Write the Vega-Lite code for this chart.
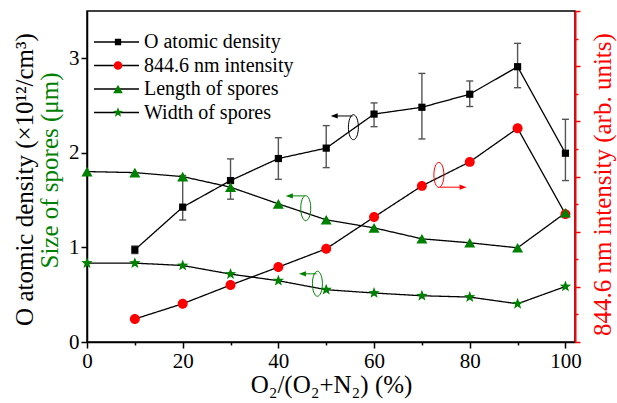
{
  "$schema": "https://vega.github.io/schema/vega-lite/v6.json",
  "width": 488,
  "height": 331,
  "autosize": {"type": "none"},
  "padding": {"left": 87, "top": 11, "right": 42, "bottom": 61},
  "config": {
    "font": "Liberation Serif",
    "view": {"stroke": "black", "strokeWidth": 1.5},
    "axis": {"grid": false, "labelColor": "black", "titleColor": "black", "titleFontWeight": "normal", "labelFont": "Liberation Serif", "titleFont": "Liberation Serif", "minExtent": 0},
    "legend": {"labelFont": "Liberation Serif"}
  },
  "data": {
    "values": [
      {"series": "O atomic density", "x": 10, "y": 0.975, "lo": 0.935, "hi": 1.015},
      {"series": "O atomic density", "x": 20, "y": 1.426, "lo": 1.29, "hi": 1.76},
      {"series": "O atomic density", "x": 30, "y": 1.707, "lo": 1.51, "hi": 1.936},
      {"series": "O atomic density", "x": 40, "y": 1.94, "lo": 1.72, "hi": 2.16},
      {"series": "O atomic density", "x": 50, "y": 2.05, "lo": 1.844, "hi": 2.288},
      {"series": "O atomic density", "x": 60, "y": 2.41, "lo": 2.277, "hi": 2.528},
      {"series": "O atomic density", "x": 70, "y": 2.482, "lo": 2.147, "hi": 2.84},
      {"series": "O atomic density", "x": 80, "y": 2.62, "lo": 2.49, "hi": 2.76},
      {"series": "O atomic density", "x": 90, "y": 2.911, "lo": 2.689, "hi": 3.158},
      {"series": "O atomic density", "x": 100, "y": 1.996, "lo": 1.707, "hi": 2.355},
      {"series": "844.6 nm intensity", "x": 10, "y": 0.417},
      {"series": "844.6 nm intensity", "x": 20, "y": 0.694},
      {"series": "844.6 nm intensity", "x": 30, "y": 1.032},
      {"series": "844.6 nm intensity", "x": 40, "y": 1.358},
      {"series": "844.6 nm intensity", "x": 50, "y": 1.69},
      {"series": "844.6 nm intensity", "x": 60, "y": 2.264},
      {"series": "844.6 nm intensity", "x": 70, "y": 2.83},
      {"series": "844.6 nm intensity", "x": 80, "y": 3.265},
      {"series": "844.6 nm intensity", "x": 90, "y": 3.875},
      {"series": "844.6 nm intensity", "x": 100, "y": 2.318},
      {"series": "Length of spores", "x": 0, "y": 1.802},
      {"series": "Length of spores", "x": 10, "y": 1.791},
      {"series": "Length of spores", "x": 20, "y": 1.749},
      {"series": "Length of spores", "x": 30, "y": 1.637},
      {"series": "Length of spores", "x": 40, "y": 1.461},
      {"series": "Length of spores", "x": 50, "y": 1.292},
      {"series": "Length of spores", "x": 60, "y": 1.207},
      {"series": "Length of spores", "x": 70, "y": 1.091},
      {"series": "Length of spores", "x": 80, "y": 1.049},
      {"series": "Length of spores", "x": 90, "y": 0.996},
      {"series": "Length of spores", "x": 100, "y": 1.366},
      {"series": "Width of spores", "x": 0, "y": 0.834},
      {"series": "Width of spores", "x": 10, "y": 0.834},
      {"series": "Width of spores", "x": 20, "y": 0.809},
      {"series": "Width of spores", "x": 30, "y": 0.718},
      {"series": "Width of spores", "x": 40, "y": 0.648},
      {"series": "Width of spores", "x": 50, "y": 0.553},
      {"series": "Width of spores", "x": 60, "y": 0.518},
      {"series": "Width of spores", "x": 70, "y": 0.489},
      {"series": "Width of spores", "x": 80, "y": 0.475},
      {"series": "Width of spores", "x": 90, "y": 0.404},
      {"series": "Width of spores", "x": 100, "y": 0.587}
    ]
  },
  "layer": [
    {
      "transform": [{"filter": "datum.series !== '844.6 nm intensity'"}],
      "mark": {"type": "line", "color": "black", "strokeWidth": 1.3},
      "encoding": {
        "x": {"field": "x", "type": "quantitative", "scale": {"domain": [0, 102], "nice": false, "zero": false},
          "axis": {"orient": "bottom", "values": [0, 10, 20, 30, 40, 50, 60, 70, 80, 90, 100], "format": "d",
            "labelExpr": "datum.value % 20 === 0 ? datum.label : ''",
            "tickSize": {"condition": {"test": "datum.value % 20 === 0", "value": 6}, "value": 3},
            "title": "O₂/(O₂+N₂) (%)", "labelFontSize": 21, "titleFontSize": 25, "labelPadding": 2, "titlePadding": 1,
            "domainColor": "black", "tickColor": "black", "domainWidth": 1.5, "tickWidth": 1.5, "labelFlush": false, "labelOverlap": false}},
        "y": {"field": "y", "type": "quantitative", "scale": {"domain": [0, 3.5], "nice": false, "zero": false},
          "axis": {"orient": "left", "values": [0, 0.5, 1, 1.5, 2, 2.5, 3], "format": "d",
            "labelExpr": "datum.value % 1 === 0 ? datum.label : ''",
            "tickSize": {"condition": {"test": "datum.value % 1 === 0", "value": 6}, "value": 3},
            "title": "O atomic density (×10¹²/cm³)", "labelFontSize": 21, "titleFontSize": 25, "labelPadding": 2, "titlePadding": 31, "titleY": 168,
            "domainColor": "black", "tickColor": "black", "domainWidth": 1.5, "tickWidth": 1.5, "labelOverlap": false}},
        "strokeDash": {"field": "series", "type": "nominal",
          "sort": ["O atomic density", "844.6 nm intensity", "Length of spores", "Width of spores"],
          "scale": {"range": [[1, 0], [1, 0], [1, 0], [1, 0]]},
          "legend": {"orient": "none", "legendX": 6, "legendY": 21, "title": null, "symbolType": "stroke", "symbolSize": 2025,
            "symbolStrokeColor": "black", "symbolStrokeWidth": 1.3, "labelExpr": "''", "labelFontSize": 20, "clipHeight": 20,
            "rowPadding": 3.5, "padding": 0, "labelOffset": 0}}
      }
    },
    {
      "transform": [{"filter": "datum.series === '844.6 nm intensity'"}],
      "mark": {"type": "line", "color": "black", "strokeWidth": 1.3},
      "encoding": {
        "x": {"field": "x", "type": "quantitative", "scale": {"domain": [0, 102], "nice": false, "zero": false}},
        "y": {"field": "y", "type": "quantitative", "scale": {"domain": [0, 6], "nice": false, "zero": false},
          "axis": {"orient": "right", "values": [0, 0.5, 1, 1.5, 2, 2.5, 3, 3.5, 4, 4.5, 5, 5.5, 6], "labels": false,
            "tickSize": {"condition": {"test": "datum.value % 1 === 0", "value": 5}, "value": 3},
            "title": "844.6 nm intensity (arb. units)", "titleColor": "#FF0000", "titleFontSize": 25, "titleAngle": 270, "titleBaseline": "top", "titlePadding": 10, "titleY": 173,
            "domainColor": "#FF0000", "tickColor": "#FF0000", "domainWidth": 2, "tickWidth": 1.5}},
        "strokeDash": {"field": "series", "type": "nominal",
          "sort": ["O atomic density", "844.6 nm intensity", "Length of spores", "Width of spores"],
          "scale": {"range": [[1, 0], [1, 0], [1, 0], [1, 0]]},
          "legend": {"orient": "none", "legendX": 6, "legendY": 21, "title": null, "symbolType": "stroke", "symbolSize": 2025,
            "symbolStrokeColor": "black", "symbolStrokeWidth": 1.3, "labelExpr": "''", "labelFontSize": 20, "clipHeight": 20,
            "rowPadding": 3.5, "padding": 0, "labelOffset": 0}}
      }
    },
    {
      "transform": [{"filter": "datum.series === 'O atomic density'"}],
      "mark": {"type": "rule", "color": "#555555", "strokeWidth": 1.4},
      "encoding": {
        "x": {"field": "x", "type": "quantitative", "scale": {"domain": [0, 102], "nice": false, "zero": false}},
        "y": {"field": "lo", "type": "quantitative", "scale": {"domain": [0, 3.5], "nice": false, "zero": false}, "axis": null},
        "y2": {"field": "hi"}
      }
    },
    {
      "transform": [{"filter": "datum.series === 'O atomic density'"}],
      "mark": {"type": "tick", "orient": "horizontal", "color": "#555555", "size": 7, "thickness": 1.4, "opacity": 1},
      "encoding": {
        "x": {"field": "x", "type": "quantitative", "scale": {"domain": [0, 102], "nice": false, "zero": false}},
        "y": {"field": "lo", "type": "quantitative", "scale": {"domain": [0, 3.5], "nice": false, "zero": false}, "axis": null}
      }
    },
    {
      "transform": [{"filter": "datum.series === 'O atomic density'"}],
      "mark": {"type": "tick", "orient": "horizontal", "color": "#555555", "size": 7, "thickness": 1.4, "opacity": 1},
      "encoding": {
        "x": {"field": "x", "type": "quantitative", "scale": {"domain": [0, 102], "nice": false, "zero": false}},
        "y": {"field": "hi", "type": "quantitative", "scale": {"domain": [0, 3.5], "nice": false, "zero": false}, "axis": null}
      }
    },
    {
      "transform": [{"filter": "datum.series === '844.6 nm intensity'"}],
      "mark": {"type": "point", "filled": true, "size": 144, "opacity": 1, "strokeWidth": 0},
      "encoding": {
        "x": {"field": "x", "type": "quantitative", "scale": {"domain": [0, 102], "nice": false, "zero": false}},
        "y": {"field": "y", "type": "quantitative", "scale": {"domain": [0, 6], "nice": false, "zero": false}, "axis": null},
        "color": {"field": "series", "type": "nominal",
          "scale": {"domain": ["O atomic density", "844.6 nm intensity", "Length of spores", "Width of spores"], "range": ["#000000", "#FF0000", "#008000", "#008000"]},
          "legend": {"orient": "none", "legendX": 21, "legendY": 21, "title": null, "symbolSize": 110, "symbolStrokeWidth": 0,
            "labelFontSize": 20, "labelColor": "black", "clipHeight": 20, "rowPadding": 3.5, "padding": 0, "labelOffset": 16, "labelLimit": 400}},
        "shape": {"field": "series", "type": "nominal",
          "scale": {"domain": ["O atomic density", "844.6 nm intensity", "Length of spores", "Width of spores"],
            "range": ["M-0.6,-0.6H0.6V0.6H-0.6Z", "M0.83,0A0.83,0.83 0 1,1 -0.83,0A0.83,0.83 0 1,1 0.83,0Z", "M0,-0.8L0.92,0.8L-0.92,0.8Z", "M0,-1L0.247,-0.34L0.951,-0.309L0.399,0.13L0.588,0.809L0,0.42L-0.588,0.809L-0.399,0.13L-0.951,-0.309L-0.247,-0.34Z"]},
          "legend": {"orient": "none", "legendX": 21, "legendY": 21, "title": null, "symbolSize": 110, "symbolStrokeWidth": 0,
            "labelFontSize": 20, "labelColor": "black", "clipHeight": 20, "rowPadding": 3.5, "padding": 0, "labelOffset": 16, "labelLimit": 400}}
      }
    },
    {
      "transform": [{"filter": "datum.series !== '844.6 nm intensity'"}],
      "mark": {"type": "point", "filled": true, "size": 144, "opacity": 1, "strokeWidth": 0},
      "encoding": {
        "x": {"field": "x", "type": "quantitative", "scale": {"domain": [0, 102], "nice": false, "zero": false}},
        "y": {"field": "y", "type": "quantitative", "scale": {"domain": [0, 3.5], "nice": false, "zero": false},
          "axis": {"orient": "left", "labels": false, "ticks": false, "domain": false, "title": "Size of spores (μm)", "titleColor": "#008000", "titleFontSize": 25, "titlePadding": 25, "titleY": 159}},
        "color": {"field": "series", "type": "nominal",
          "scale": {"domain": ["O atomic density", "844.6 nm intensity", "Length of spores", "Width of spores"], "range": ["#000000", "#FF0000", "#008000", "#008000"]},
          "legend": {"orient": "none", "legendX": 21, "legendY": 21, "title": null, "symbolSize": 110, "symbolStrokeWidth": 0,
            "labelFontSize": 20, "labelColor": "black", "clipHeight": 20, "rowPadding": 3.5, "padding": 0, "labelOffset": 16, "labelLimit": 400}},
        "shape": {"field": "series", "type": "nominal",
          "scale": {"domain": ["O atomic density", "844.6 nm intensity", "Length of spores", "Width of spores"],
            "range": ["M-0.6,-0.6H0.6V0.6H-0.6Z", "M0.83,0A0.83,0.83 0 1,1 -0.83,0A0.83,0.83 0 1,1 0.83,0Z", "M0,-0.8L0.92,0.8L-0.92,0.8Z", "M0,-1L0.247,-0.34L0.951,-0.309L0.399,0.13L0.588,0.809L0,0.42L-0.588,0.809L-0.399,0.13L-0.951,-0.309L-0.247,-0.34Z"]},
          "legend": {"orient": "none", "legendX": 21, "legendY": 21, "title": null, "symbolSize": 110, "symbolStrokeWidth": 0,
            "labelFontSize": 20, "labelColor": "black", "clipHeight": 20, "rowPadding": 3.5, "padding": 0, "labelOffset": 16, "labelLimit": 400}}
      }
    },
    {
      "data": {"values": [{}]},
      "layer": [
        {"mark": {"type": "point", "shape": "M0,-1A0.4,1 0 1,1 0,1A0.4,1 0 1,1 0,-1Z", "size": 625, "filled": false, "color": "black", "strokeWidth": 1, "opacity": 1},
         "encoding": {"x": {"datum": 55.68, "type": "quantitative", "scale": {"domain": [0, 102], "nice": false, "zero": false}},
                      "y": {"datum": 2.271, "type": "quantitative", "scale": {"domain": [0, 3.5], "nice": false, "zero": false}, "axis": null}}},
        {"mark": {"type": "rule", "color": "black", "strokeWidth": 1},
         "encoding": {"x": {"datum": 51.8, "type": "quantitative", "scale": {"domain": [0, 102], "nice": false, "zero": false}},
                      "x2": {"datum": 55.5},
                      "y": {"datum": 2.39, "type": "quantitative", "scale": {"domain": [0, 3.5], "nice": false, "zero": false}, "axis": null}}},
        {"mark": {"type": "point", "shape": "M0,0L2,-0.75L2,0.75Z", "size": 49, "filled": true, "color": "black", "strokeWidth": 0, "opacity": 1},
         "encoding": {"x": {"datum": 50.94, "type": "quantitative", "scale": {"domain": [0, 102], "nice": false, "zero": false}},
                      "y": {"datum": 2.39, "type": "quantitative", "scale": {"domain": [0, 3.5], "nice": false, "zero": false}, "axis": null}}},
        {"mark": {"type": "point", "shape": "M0,-1A0.4,1 0 1,1 0,1A0.4,1 0 1,1 0,-1Z", "size": 625, "filled": false, "color": "#FF0000", "strokeWidth": 1, "opacity": 1},
         "encoding": {"x": {"datum": 73.55, "type": "quantitative", "scale": {"domain": [0, 102], "nice": false, "zero": false}},
                      "y": {"datum": 1.767, "type": "quantitative", "scale": {"domain": [0, 3.5], "nice": false, "zero": false}, "axis": null}}},
        {"mark": {"type": "rule", "color": "#FF0000", "strokeWidth": 1},
         "encoding": {"x": {"datum": 73.7, "type": "quantitative", "scale": {"domain": [0, 102], "nice": false, "zero": false}},
                      "x2": {"datum": 78.5},
                      "y": {"datum": 1.637, "type": "quantitative", "scale": {"domain": [0, 3.5], "nice": false, "zero": false}, "axis": null}}},
        {"mark": {"type": "point", "shape": "M0,0L-2,-0.75L-2,0.75Z", "size": 49, "filled": true, "color": "#FF0000", "strokeWidth": 0, "opacity": 1},
         "encoding": {"x": {"datum": 79.33, "type": "quantitative", "scale": {"domain": [0, 102], "nice": false, "zero": false}},
                      "y": {"datum": 1.637, "type": "quantitative", "scale": {"domain": [0, 3.5], "nice": false, "zero": false}, "axis": null}}},
        {"mark": {"type": "point", "shape": "M0,-1A0.4,1 0 1,1 0,1A0.4,1 0 1,1 0,-1Z", "size": 625, "filled": false, "color": "#008000", "strokeWidth": 1, "opacity": 1},
         "encoding": {"x": {"datum": 45.72, "type": "quantitative", "scale": {"domain": [0, 102], "nice": false, "zero": false}},
                      "y": {"datum": 1.415, "type": "quantitative", "scale": {"domain": [0, 3.5], "nice": false, "zero": false}, "axis": null}}},
        {"mark": {"type": "rule", "color": "#008000", "strokeWidth": 1},
         "encoding": {"x": {"datum": 42.3, "type": "quantitative", "scale": {"domain": [0, 102], "nice": false, "zero": false}},
                      "x2": {"datum": 45.5},
                      "y": {"datum": 1.545, "type": "quantitative", "scale": {"domain": [0, 3.5], "nice": false, "zero": false}, "axis": null}}},
        {"mark": {"type": "point", "shape": "M0,0L2,-0.75L2,0.75Z", "size": 49, "filled": true, "color": "#008000", "strokeWidth": 0, "opacity": 1},
         "encoding": {"x": {"datum": 41.55, "type": "quantitative", "scale": {"domain": [0, 102], "nice": false, "zero": false}},
                      "y": {"datum": 1.545, "type": "quantitative", "scale": {"domain": [0, 3.5], "nice": false, "zero": false}, "axis": null}}},
        {"mark": {"type": "point", "shape": "M0,-1A0.4,1 0 1,1 0,1A0.4,1 0 1,1 0,-1Z", "size": 625, "filled": false, "color": "#008000", "strokeWidth": 1, "opacity": 1},
         "encoding": {"x": {"datum": 48.16, "type": "quantitative", "scale": {"domain": [0, 102], "nice": false, "zero": false}},
                      "y": {"datum": 0.616, "type": "quantitative", "scale": {"domain": [0, 3.5], "nice": false, "zero": false}, "axis": null}}},
        {"mark": {"type": "rule", "color": "#008000", "strokeWidth": 1},
         "encoding": {"x": {"datum": 45.1, "type": "quantitative", "scale": {"domain": [0, 102], "nice": false, "zero": false}},
                      "x2": {"datum": 48.0},
                      "y": {"datum": 0.721, "type": "quantitative", "scale": {"domain": [0, 3.5], "nice": false, "zero": false}, "axis": null}}},
        {"mark": {"type": "point", "shape": "M0,0L2,-0.75L2,0.75Z", "size": 49, "filled": true, "color": "#008000", "strokeWidth": 0, "opacity": 1},
         "encoding": {"x": {"datum": 44.3, "type": "quantitative", "scale": {"domain": [0, 102], "nice": false, "zero": false}},
                      "y": {"datum": 0.721, "type": "quantitative", "scale": {"domain": [0, 3.5], "nice": false, "zero": false}, "axis": null}}}
      ]
    }
  ],
  "resolve": {"scale": {"y": "independent"}}
}
